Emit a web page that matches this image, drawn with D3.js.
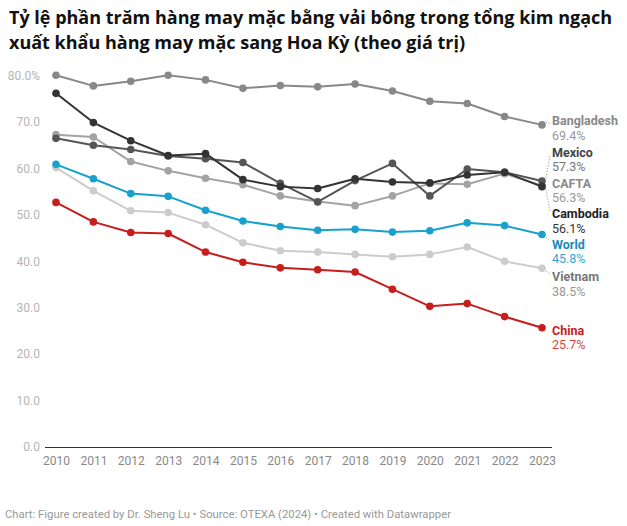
<!DOCTYPE html>
<html><head><meta charset="utf-8">
<script src="https://cdn.jsdelivr.net/npm/d3@7"></script>
<style>
body{margin:0;background:#fff;}
svg text{font-family:Roboto, "Noto Sans", sans-serif;}
</style></head>
<body><svg id="c" width="627" height="526"></svg>
<script>
const years = [2010,2011,2012,2013,2014,2015,2016,2017,2018,2019,2020,2021,2022,2023];
const bangladesh = [80.1,77.8,78.8,80.1,79.1,77.3,77.9,77.6,78.2,76.7,74.5,74.0,71.2,69.4];
const cambodia   = [76.2,69.9,66.0,62.8,63.2,57.6,56.1,55.7,57.8,57.1,56.9,58.6,59.2,56.1];
const mexico     = [66.5,65.0,64.1,62.7,62.1,61.3,56.8,52.8,57.4,61.1,54.1,59.9,59.2,57.3];
const cafta      = [67.3,66.8,61.5,59.5,57.9,56.5,54.1,52.9,52.0,54.1,56.8,56.6,58.9,56.3];
const world      = [60.9,57.8,54.6,54.0,51.0,48.7,47.5,46.7,46.9,46.3,46.6,48.3,47.7,45.8];
const vietnam    = [60.2,55.2,50.9,50.5,47.9,44.0,42.3,42.0,41.5,41.0,41.5,43.1,40.0,38.5];
const china      = [52.7,48.5,46.2,46.0,42.0,39.8,38.6,38.2,37.7,34.0,30.3,30.9,28.1,25.7];
const yTicks = [0,10,20,30,40,50,60,70,80];

const series = [
  {name:"Vietnam", values:vietnam, color:"#cccccc", nameColor:"#777", valColor:"#999", ly:276.7},
  {name:"CAFTA", values:cafta, color:"#a3a3a3", nameColor:"#8a8a8a", valColor:"#9a9a9a", ly:183.3},
  {name:"Bangladesh", values:bangladesh, color:"#888888", nameColor:"#888", valColor:"#999", ly:121},
  {name:"Mexico", values:mexico, color:"#555555", nameColor:"#444", valColor:"#777", ly:152.3},
  {name:"Cambodia", values:cambodia, color:"#333333", nameColor:"#222", valColor:"#333", ly:214},
  {name:"World", values:world, color:"#18a1cd", nameColor:"#1a8ab8", valColor:"#3aa3d1", ly:244.3},
  {name:"China", values:china, color:"#c71e1d", nameColor:"#c71e1d", valColor:"#d94545", ly:330.3}
];

const svg = d3.select("#c");
const x = d3.scaleLinear().domain([2010,2023]).range([56,542]);
const y = d3.scaleLinear().domain([0,80]).range([447,75.7]);

// title
const titleLines = ["Tỷ lệ phần trăm hàng may mặc bằng vải bông trong tổng kim ngạch",
                    "xuất khẩu hàng may mặc sang Hoa Kỳ (theo giá trị)"];
svg.append("g").selectAll("text").data(titleLines).join("text")
  .style("font-family","'Open Sans', 'Noto Sans', sans-serif")
  .attr("font-weight",700).attr("font-size",18).attr("fill","#111")
  .attr("x",9).attr("y",(d,i)=> i===0 ? 24 : 48.5).text(d=>d);

// y axis labels
svg.append("g").selectAll("text").data(yTicks).join("text")
  .attr("x",40).attr("y",d=>y(d)).attr("dy","0.35em").attr("text-anchor","end")
  .attr("font-size",12).attr("fill","#b5b5b5")
  .text(d=> d===80 ? d.toFixed(1)+"%" : d.toFixed(1));

// x axis
const xAxis = svg.append("g").attr("transform","translate(0,447)")
  .call(d3.axisBottom(x).tickValues(years).tickFormat(d3.format("d")).tickSize(0).tickPadding(9));
xAxis.select(".domain").attr("d","M45,0.5H552").attr("stroke","#333").attr("stroke-width",1.2);
xAxis.selectAll("text").attr("font-size",12).attr("fill","#888").style("font-family","Roboto, sans-serif");

const line = d3.line().x((d,i)=>x(years[i])).y(d=>y(d));
const g = svg.append("g");
series.forEach(s=>{
  g.append("path").datum(s.values).attr("d",line).attr("fill","none")
    .attr("stroke",s.color).attr("stroke-width",2).attr("stroke-linejoin","round");
  g.selectAll(null).data(s.values).join("circle")
    .attr("cx",(d,i)=>x(years[i])).attr("cy",d=>y(d)).attr("r",3.8).attr("fill",s.color);
});

// connectors
const lastX = x(2023);
const conn = svg.append("g").attr("stroke-width",1).attr("stroke-dasharray","1,2").attr("fill","none");
series.forEach(s=>{
  const py = y(s.values[13]);
  const ty = s.ly;
  if (Math.abs(py-ty) > 3) {
    conn.append("path").attr("d",`M${lastX+4},${py + (ty>py?3:-3)} L${lastX+8},${ty + (ty>py?-3:3)}`)
      .attr("stroke", s.name==="World" ? "#18a1cd" : "#888");
  }
});

// labels
const lab = svg.append("g");
series.forEach(s=>{
  lab.append("text").attr("x",552).attr("y",s.ly).attr("dy","0.35em")
    .attr("font-size",12.5).attr("font-weight",700).attr("fill",s.nameColor).text(s.name);
  lab.append("text").attr("x",552).attr("y",s.ly+14.5).attr("dy","0.35em")
    .attr("font-size",12.5).attr("fill",s.valColor).text(s.values[13].toFixed(1)+"%");
});

// footer
svg.append("text").attr("x",5).attr("y",518).attr("font-size",11.4).attr("fill","#999")
  .attr("textLength",446).attr("lengthAdjust","spacingAndGlyphs")
  .text("Chart: Figure created by Dr. Sheng Lu • Source: OTEXA (2024) • Created with Datawrapper");
</script></body></html>
